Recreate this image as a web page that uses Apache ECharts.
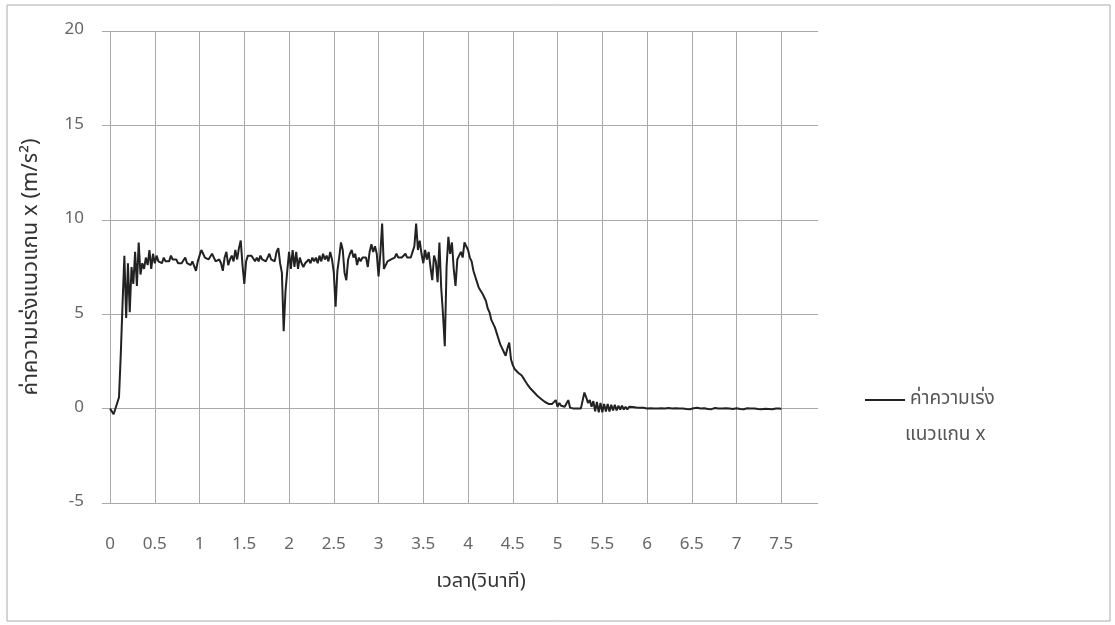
<!DOCTYPE html>
<html>
<head>
<meta charset="utf-8">
<script src="https://cdn.jsdelivr.net/npm/echarts@6/dist/echarts.min.js"></script>
<style>
html,body{margin:0;padding:0;background:#fff;}
#c{width:1115px;height:625px;}
</style>
</head>
<body>
<div id="c"></div>
<script>
// Time step 0.02 s, from 0 to 7.5 s
const timeStep = 0.02;
const accelX = [
  // 0.00 - 0.48
  0.0, -0.1, -0.3, -0.2, 0.3, 0.6, 2.9, 5.6, 8.1, 4.8, 7.7, 5.1, 7.5, 6.6, 8.3, 6.5, 8.8, 7.1, 7.7, 7.4, 8.0, 7.6, 8.4, 7.4, 8.2,
  // 0.50 - 0.98
  7.7, 8.1, 7.8, 7.9, 7.7, 8.0, 7.8, 7.9, 7.8, 8.1, 7.9, 8.0, 7.9, 7.7, 7.8, 7.7, 7.8, 8.0, 7.7, 7.8, 7.6, 7.8, 7.7, 7.3, 7.8,
  // 1.00 - 1.48
  8.1, 8.4, 8.2, 8.0, 8.1, 7.9, 8.0, 8.2, 8.0, 7.8, 7.9, 7.9, 7.7, 7.3, 8.0, 8.3, 7.6, 7.9, 8.1, 7.8, 8.4, 7.9, 8.5, 8.9, 7.6,
  // 1.50 - 1.98
  6.6, 7.8, 8.1, 8.0, 8.1, 8.2, 7.8, 8.0, 7.8, 8.1, 7.9, 8.0, 7.8, 8.0, 8.2, 7.9, 8.0, 7.8, 8.3, 8.5, 7.7, 7.2, 4.1, 6.2, 7.3,
  // 2.00 - 2.48
  8.3, 7.4, 8.4, 7.5, 8.3, 7.4, 8.0, 7.7, 7.5, 7.7, 7.6, 7.9, 7.7, 8.0, 7.8, 8.0, 7.7, 8.1, 7.8, 8.2, 7.9, 8.1, 7.8, 8.3, 7.9,
  // 2.50 - 2.98
  7.2, 5.4, 7.3, 8.0, 8.8, 8.4, 7.2, 6.8, 7.9, 8.2, 8.4, 8.0, 8.2, 7.6, 8.0, 7.8, 8.0, 8.1, 8.0, 7.5, 8.3, 8.7, 8.3, 8.6, 8.2,
  // 3.00 - 3.48
  7.0, 8.2, 9.8, 7.4, 7.6, 7.8, 7.7, 7.9, 7.8, 8.0, 8.2, 8.0, 7.9, 8.0, 8.0, 8.2, 8.0, 8.1, 8.0, 8.3, 8.6, 9.8, 8.4, 8.9, 8.2,
  // 3.50 - 3.98
  7.7, 8.4, 7.9, 8.3, 7.5, 6.8, 8.1, 7.8, 6.7, 8.8, 6.4, 5.0, 3.3, 7.5, 9.1, 8.2, 8.8, 7.4, 6.5, 7.9, 8.1, 8.3, 8.0, 8.8, 8.6,
  // 4.00 - 4.48
  8.4, 8.0, 7.8, 7.3, 7.0, 6.7, 6.4, 6.3, 6.1, 6.0, 5.7, 5.3, 5.1, 4.7, 4.5, 4.3, 4.0, 3.7, 3.4, 3.2, 3.0, 2.8, 3.2, 3.5, 2.6,
  // 4.50 - 4.98
  2.3, 2.1, 2.0, 1.9, 1.85, 1.75, 1.6, 1.45, 1.3, 1.2, 1.05, 0.95, 0.85, 0.8, 0.65, 0.55, 0.5, 0.4, 0.35, 0.3, 0.25, 0.2, 0.25, 0.2, 0.45,
  // 5.00 - 5.48
  0.1, 0.3, 0.15, 0.25, 0.1, 0.2, 0.45, 0.05, 0.1, 0.0, 0.05, 0.0, 0.05, 0.0, 0.1, 0.85, 0.6, 0.3, 0.45, 0.1, 0.4, -0.15, 0.35, -0.2, 0.3,
  // 5.50 - 5.98
  -0.2, 0.25, -0.15, 0.25, -0.15, 0.2, -0.1, 0.2, -0.1, 0.15, -0.05, 0.15, -0.05, 0.1, -0.05, 0.1, 0.0, 0.08, -0.02, 0.06, 0.0, 0.05, -0.02, 0.04, 0.0,
  // 6.00 - 6.48
  0.0, -0.03, 0.02, -0.02, 0.0, -0.04, 0.01, -0.02, 0.02, -0.03, 0.0, -0.02, 0.03, -0.01, 0.0, -0.03, 0.02, -0.02, 0.01, -0.03, 0.0, 0.02, -0.02, 0.01, -0.03,
  // 6.50 - 6.98
  0.0, 0.02, -0.02, 0.04, -0.01, 0.0, -0.03, 0.02, 0.0, -0.02, 0.01, -0.03, 0.0, 0.03, -0.02, 0.0, -0.03, 0.01, -0.01, 0.02, -0.03, 0.0, 0.03, -0.02, 0.06,
  // 7.00 - 7.48
  0.02, 0.1, -0.02, 0.03, -0.03, 0.0, 0.02, -0.03, 0.01, -0.02, 0.0, 0.03, -0.02, 0.0, -0.03, 0.02, -0.01, 0.0, -0.02, 0.02, -0.03, 0.0, 0.01, -0.02, 0.0,
  // 7.50
  -0.02
];
const xTicks = [0, 0.5, 1, 1.5, 2, 2.5, 3, 3.5, 4, 4.5, 5, 5.5, 6, 6.5, 7, 7.5];
const seriesName = 'ค่าความเร่งแนวแกน x';
const legendLine1 = 'ค่าความเร่ง';
const legendLine2 = 'แนวแกน x';
const xTitle = 'เวลา(วินาที)';
const yTitle = 'ค่าความเร่งแนวแกน x (m/s²)';

const points = accelX.map((v, i) => [Math.round(i * timeStep * 100) / 100, v]);
const FONT = 'Tahoma, "Noto Sans Thai", "Noto Sans", "DejaVu Sans", sans-serif';

const chart = echarts.init(document.getElementById('c'), null, {renderer: 'canvas'});
chart.setOption({
  backgroundColor: '#ffffff',
  animation: false,
  textStyle: {fontFamily: FONT},
  grid: {left: 102, right: 297, top: 31, bottom: 122, containLabel: false},
  xAxis: {
    type: 'value',
    min: -0.09,
    max: 7.91,
    axisLine: {show: false},
    axisTick: {show: false, customValues: xTicks},
    axisLabel: {customValues: xTicks, color: '#666', fontSize: 17, margin: 34, fontFamily: FONT},
    splitLine: {show: true, lineStyle: {color: '#aaa', width: 1}},
    name: xTitle,
    nameLocation: 'middle',
    nameGap: 70,
    nameTextStyle: {color: '#333', fontSize: 20, fontFamily: FONT, padding: [0, 0, 0, 42]}
  },
  yAxis: {
    type: 'value',
    min: -5,
    max: 20,
    interval: 5,
    axisLine: {show: false},
    axisTick: {show: false},
    axisLabel: {color: '#666', fontSize: 17, margin: 18, fontFamily: FONT},
    splitLine: {show: true, lineStyle: {color: '#aaa', width: 1}},
    name: yTitle,
    nameLocation: 'middle',
    nameGap: 58,
    nameTextStyle: {color: '#333', fontSize: 22, fontFamily: FONT}
  },
  legend: {
    left: 860,
    top: 383,
    orient: 'vertical',
    icon: 'rect',
    itemWidth: 40,
    itemHeight: 2,
    itemGap: 5,
    formatter: () => legendLine1,
    textStyle: {color: '#555', fontSize: 19, fontFamily: FONT, lineHeight: 24},
    data: [{name: seriesName}]
  },
  graphic: [
    {type: 'rect', shape: {x: 7, y: 5, width: 1103, height: 616}, style: {fill: 'none', stroke: '#aaa', lineWidth: 1}, silent: true, z: -1},
    {type: 'text', left: 905, top: 427, style: {text: legendLine2, fill: '#555', fontSize: 19, fontFamily: FONT}}
  ],
  series: [{
    name: seriesName,
    type: 'line',
    data: points,
    symbol: 'none',
    lineStyle: {color: '#222', width: 2},
    itemStyle: {color: '#222'}
  }]
});
</script>
</body>
</html>
